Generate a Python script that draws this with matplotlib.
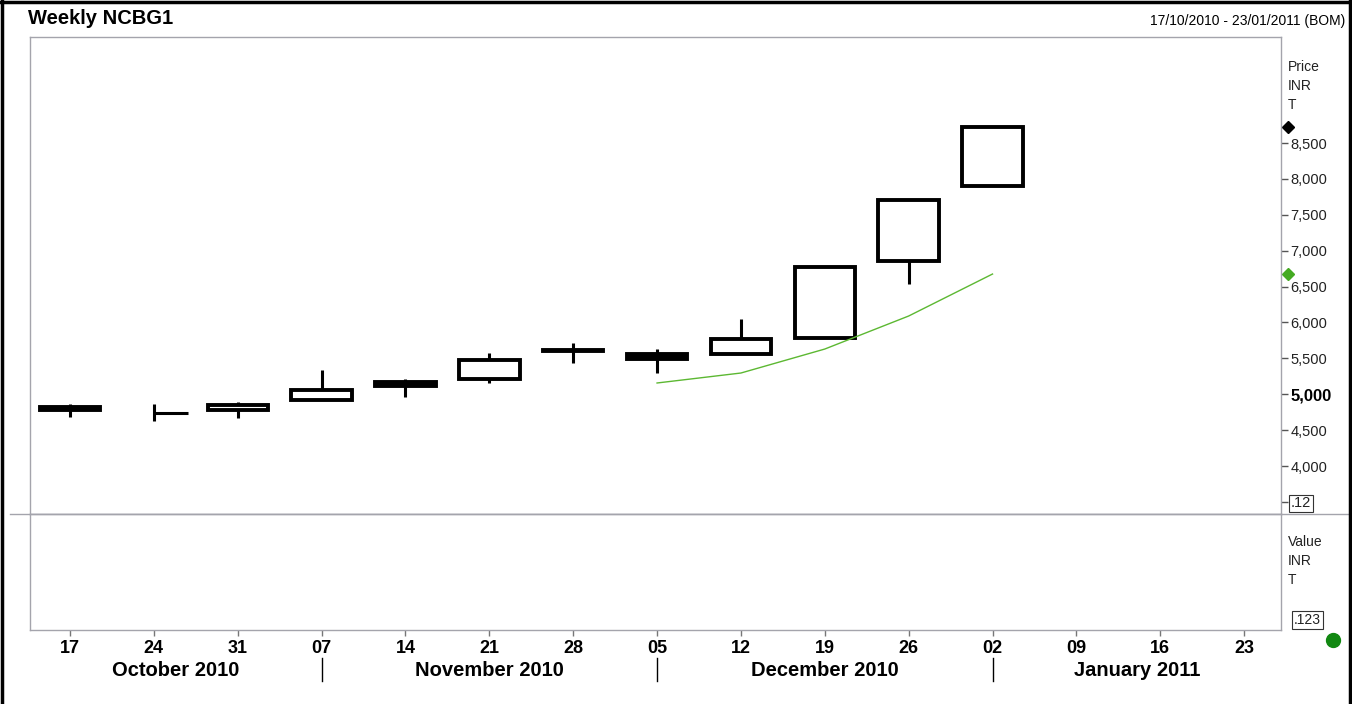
import numpy as np
import matplotlib
matplotlib.use('Agg')
import matplotlib.pyplot as plt
from matplotlib.patches import Rectangle
from matplotlib.lines import Line2D
from matplotlib.transforms import blended_transform_factory

plt.rcParams['font.family'] = ['Liberation Sans', 'DejaVu Sans']

# weekly candles, 17 Oct 2010 .. 02 Jan 2011
week_labels = ['17', '24', '31', '07', '14', '21', '28', '05', '12', '19', '26', '02', '09', '16', '23']
month_names = ['October 2010', 'November 2010', 'December 2010', 'January 2011']
month_starts = [3, 7, 11]   # first week of Nov, Dec, Jan

opens  = [4829, np.nan, 4774, 4927, 5164, 5206, 5623, 5554, 5554, 5777, 6863, 7908]
highs  = [4864, 4864, 4892, 5338, 5206, 5575, 5714, 5630, 6048, 6766, 7713, 8730]
lows   = [4683, 4627, 4669, 4927, 4955, 5157, 5436, 5296, 5554, 5777, 6536, 7908]
closes = [4774, 4739, 4857, 5066, 5122, 5484, 5596, 5498, 5763, 6766, 7713, 8730]

ma_start = 7
ma_vals = [5157, 5296, 5630, 6090, 6675]

price_ticks = [3500, 4000, 4500, 5000, 5500, 6000, 6500, 7000, 7500, 8000, 8500]

W, H = 1352, 704
fig = plt.figure(figsize=(W / 100, H / 100), dpi=100)

def fx(px):
    return px / W

def fy(py):
    return 1 - py / H

left, right, top, mid, bot = 30, 1281, 37, 514, 630
ax = fig.add_axes([fx(left), fy(mid), fx(right - left), (mid - top) / H])
ax2 = fig.add_axes([fx(left), fy(bot), fx(right - left), (bot - mid) / H])

xlim = (-0.477, 14.44)
grey = '#a4a4ac'

for a in (ax, ax2):
    a.set_xlim(*xlim)
    for s in a.spines.values():
        s.set_color(grey)
        s.set_linewidth(1.0)
    a.set_facecolor('white')

ax.set_ylim(3332, 9977)
ax2.set_ylim(0, 1)

# candles
hw = 0.36
lw = 2.8
for i in range(len(closes)):
    o, h, l, c = opens[i], highs[i], lows[i], closes[i]
    if np.isnan(o):
        ax.plot([i, i], [l, h], color='black', lw=2.2, solid_capstyle='butt', zorder=3)
        ax.plot([i, i + hw + 0.05], [c, c], color='black', lw=2.2, solid_capstyle='butt', zorder=3)
        continue
    lo_b, hi_b = min(o, c), max(o, c)
    if h > hi_b:
        ax.plot([i, i], [hi_b, h], color='black', lw=2.2, solid_capstyle='butt', zorder=2)
    if l < lo_b:
        ax.plot([i, i], [l, lo_b], color='black', lw=2.2, solid_capstyle='butt', zorder=2)
    fill = 'black' if c < o else 'white'
    ax.add_patch(Rectangle((i - hw, lo_b), 2 * hw, hi_b - lo_b, facecolor=fill,
                           edgecolor='black', lw=lw, joinstyle='miter', zorder=3))

# moving average
ma_x = np.arange(ma_start, ma_start + len(ma_vals))
ax.plot(ma_x, ma_vals, color='#5cb832', lw=1.0, zorder=4)

# right price axis
ax.yaxis.tick_right()
ax.set_yticks(price_ticks)
ax.set_yticklabels(['.12'] + [f'{v:,}' for v in price_ticks[1:]])
ax.tick_params(axis='y', length=5, width=1, color='#555555', pad=2, labelsize=10.5,
               labelcolor='#222222', direction='out')
ax.set_xticks([])
for t in ax.get_yticklabels():
    if t.get_text() == '5,000':
        t.set_fontweight('bold')
        t.set_fontsize(12)
        t.set_color('black')
    if t.get_text() == '.12':
        t.set_bbox(dict(facecolor='white', edgecolor='#333333', lw=0.8, pad=1.2))

# markers at the right axis
tr = blended_transform_factory(ax.transAxes, ax.transData)
ax.plot([1.0056], [closes[-1]], marker='D', ms=6, color='black', transform=tr, clip_on=False)
ax.plot([1.0056], [ma_vals[-1]], marker='D', ms=6, color='#44aa22', transform=tr, clip_on=False)

for txt, py in [('Price', 67), ('INR', 86), ('T', 105), ('Value', 542), ('INR', 561), ('T', 580)]:
    fig.text(fx(1288), fy(py), txt, fontsize=10, va='center', ha='left', color='#222222')

fig.text(fx(1294), fy(620), '.123', fontsize=10, va='center', ha='left', color='#222222',
         bbox=dict(facecolor='white', edgecolor='#333333', lw=0.8, pad=1.2))

# lower panel x axis
ax2.set_yticks([])
ax2.set_xticks(range(len(week_labels)))
ax2.set_xticklabels(week_labels)
ax2.tick_params(axis='x', length=4, width=1, color='#777777', pad=3, labelsize=13,
                labelcolor='black')
for t in ax2.get_xticklabels():
    t.set_fontweight('bold')

trb = blended_transform_factory(ax2.transData, ax2.transAxes)
bounds = [xlim[0]] + month_starts + [xlim[1]]
for k, name in enumerate(month_names):
    ax2.text((bounds[k] + bounds[k + 1]) / 2, -0.345, name, transform=trb, ha='center',
             va='center', fontsize=14.5, fontweight='bold', clip_on=False)
for m in month_starts:
    ax2.plot([m, m], [-0.24, -0.44], color='black', lw=1, transform=trb, clip_on=False)

# divider across the figure
fig.add_artist(Line2D([fx(10), 1], [fy(mid), fy(mid)], color=grey, lw=1))

# header
fig.text(fx(28), fy(19), 'Weekly NCBG1', fontsize=14.5, fontweight='bold', va='center', ha='left')
fig.text(fx(1345), fy(21), '17/10/2010 - 23/01/2011 (BOM)', fontsize=10, va='center', ha='right')

# green status dot
fig.add_artist(Line2D([fx(1333)], [fy(640)], marker='o', ms=10, color='#118811', lw=0))

# outer frame
fig.add_artist(Line2D([fx(1.5), fx(1.5)], [0, 1], color='black', lw=2.5))
fig.add_artist(Line2D([0, 1], [fy(1.5), fy(1.5)], color='black', lw=2.5))
fig.add_artist(Line2D([fx(1350), fx(1350)], [0, 1], color='black', lw=2.5))

fig.savefig('out.png', dpi=100)
